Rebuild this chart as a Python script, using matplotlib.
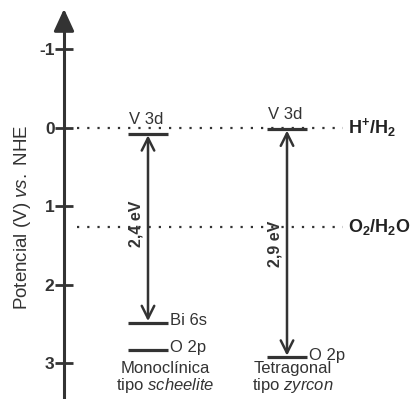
import matplotlib.pyplot as plt

plt.rcParams['font.family'] = 'Liberation Sans'
plt.rcParams['mathtext.fontset'] = 'custom'
plt.rcParams['mathtext.rm'] = 'Liberation Sans'
plt.rcParams['mathtext.it'] = 'Liberation Sans:italic'
plt.rcParams['mathtext.bf'] = 'Liberation Sans:bold'

# band edges (V vs. NHE)
phases = ['Monoclínica', 'Tetragonal']
structure = ['scheelite', 'zyrcon']
cb_levels = [0.08, 0.02]          # V 3d
vb_levels = [2.48, 2.92]          # Bi 6s / O 2p
vb_names = ['Bi 6s', 'O 2p']
o2p_levels = [2.83, None]         # extra O 2p level of the monoclinic phase
gaps = ['2,4 eV', '2,9 eV']

# redox potentials
redox_names = [r'$\mathbf{H^{+}/H_{2}}$', r'$\mathbf{O_{2}/H_{2}O}$']
redox_levels = [0.0, 1.27]

yticks = [-1, 0, 1, 2, 3]

dark = '#333333'
axis_x = 64
phase_x = [148, 287]
half_w = 20

fig = plt.figure(figsize=(4.17, 3.99), dpi=100)
ax = fig.add_axes([0, 0, 1, 1])
ax.set_xlim(0, 417)
ax.set_ylim(3.453, -1.623)

for s in ['top', 'right', 'bottom']:
    ax.spines[s].set_visible(False)
ax.spines['left'].set_position(('data', axis_x))
ax.spines['left'].set_linewidth(2.2)
ax.spines['left'].set_color(dark)
ax.spines['left'].set_bounds(-1.35, 3.453)
ax.set_xticks([])
ax.set_yticks(yticks)
ax.set_yticklabels([str(t) for t in yticks], fontweight='bold', fontsize=12.5)
ax.tick_params(axis='y', direction='inout', length=12.5, width=2, color=dark,
               labelcolor=dark, pad=0.5)

# arrow tip on the potential axis
ax.annotate('', xy=(axis_x, -1.51), xytext=(axis_x, -1.3),
            arrowprops=dict(arrowstyle='-|>,head_length=1.35,head_width=0.62',
                            color=dark, lw=2.2, shrinkA=0, shrinkB=0))

fig.text(23 / 417, 1 - 217 / 399, r'Potencial (V) $\mathit{vs.}$ NHE',
         rotation=90, ha='center', va='center', fontsize=13.5, color=dark)

# redox levels
for name, lvl in zip(redox_names, redox_levels):
    ax.plot([77, 343], [lvl, lvl], color=dark, lw=1.6, linestyle=(0, (1, 3.6)))
    ax.text(348, lvl, name, ha='left', va='center', fontsize=13, color='#222222')

for i, x in enumerate(phase_x):
    cb, vb = cb_levels[i], vb_levels[i]
    ax.plot([x - half_w, x + half_w], [cb, cb], color=dark, lw=2.3, solid_capstyle='butt')
    ax.plot([x - half_w, x + half_w], [vb, vb], color=dark, lw=2.3, solid_capstyle='butt')
    ax.annotate('', xy=(x, cb), xytext=(x, vb),
                arrowprops=dict(arrowstyle='<->,head_length=0.9,head_width=0.45',
                                color=dark, lw=1.8, shrinkA=1, shrinkB=1))
    ax.text(x - 2, cb - 0.13, 'V 3d', ha='center', va='baseline', fontsize=12, color=dark)
    ax.text(x + half_w + 2, vb - 0.02, vb_names[i], ha='left', va='center',
            fontsize=12, color=dark)
    if o2p_levels[i] is not None:
        o2p = o2p_levels[i]
        ax.plot([x - half_w, x + half_w], [o2p, o2p], color=dark, lw=2.3,
                solid_capstyle='butt')
        ax.text(x + half_w + 2, o2p - 0.03, 'O 2p', ha='left', va='center',
                fontsize=12, color=dark)
    ax.text(x - 12, 1.22 if i == 0 else 1.48, gaps[i], rotation=90, ha='center',
            va='center', fontsize=11.5, fontweight='bold', color=dark)

# phase names under each diagram
label_x = [165, 293]
for i, x in enumerate(label_x):
    ax.text(x, 3.12, phases[i], ha='center', va='baseline', fontsize=12, color=dark)
    ax.text(x, 3.34, 'tipo $\\mathit{' + structure[i] + '}$', ha='center',
            va='baseline', fontsize=12, color=dark)

plt.savefig('out.png', dpi=100)
